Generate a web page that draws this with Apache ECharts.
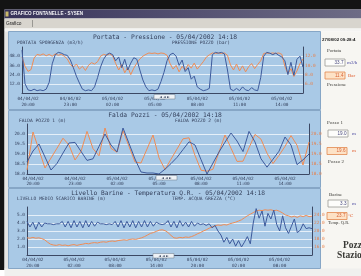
<!DOCTYPE html>
<html>
<head>
<meta charset="utf-8" />
<title>Grafico Fontanelle - Sysen</title>
<script src="https://cdn.jsdelivr.net/npm/echarts@6/dist/echarts.min.js"></script>
<style>
html, body { margin: 0; padding: 0; background: #fff; }
#main { width: 361px; height: 276px; }
</style>
</head>
<body>
<div id="main"></div>
<script>
// --- dati ---
// pannello 1: portata (m3/h) e pressione (bar)
var p1Portata = [56,12,4,3,5,3,4,3,5,14, 38,50,53,52,50,49,43,33,22,13,
  5,3,4,3,8,20,34,44,50,52, 50,42,47,33,44,30,39,46,44,30,
  17,8,3,4,3,5,15,27,42,50, 52,48,36,43,28,33,18,22,8,5,
  3,4,6,50,53,52,53,51,30,5, 3,6,3,8,4,3,7,4,3,20,
  48,53,52,50,52,49,47,42,24,40, 23,44,48,33.7];
var p1Pressione = [11.8,9.8,8.7,9.1,11.6,12.4,12.2,12.5,12.1,12.4,
  12.0,12.5,12.2,12.4,12.0,11.4,10.2,9.6,10.3,9.2,
  9.8,8.9,10.0,10.6,10.3,10.8,12.0,12.4,12.2,12.5,
  12.1,10.4,9.0,10.2,8.4,9.6,8.0,9.4,10.5,11.4,
  12.0,12.4,12.7,12.6,12.7,12.5,12.7,12.6,12.2,10.4,
  9.2,10.0,8.6,9.8,9.0,10.2,9.4,10.5,9.2,10.0,
  10.8,11.8,12.3,12.7,12.6,12.7,12.6,12.7,12.2,10.1,
  9.0,10.3,8.8,9.9,8.6,9.7,10.4,9.3,10.2,11.0,
  12.6,12.7,12.6,12.7,12.6,12.7,12.4,9.8,8.2,9.3,
  7.6,8.8,10.4,11.4];
var p1Ticks = ['04/04/02\n20:00','04/04/02\n23:00','05/04/02\n02:00','05/04/02\n05:00',
  '05/04/02\n08:00','05/04/02\n11:00','05/04/02\n14:00'];

// pannello 2: falda pozzo 1 e pozzo 2 (m)
var p2Pozzo1 = [18.60,19.15,19.50,18.85,18.20,18.53,19.05,19.55,19.58,19.13,
  18.68,18.76,19.38,20.00,19.45,19.10,20.30,19.53,18.75,18.10,
  18.05,18.05,18.00,18.24,18.52,18.83,19.22,19.61,19.45,18.72,
  18.00,18.55,19.10,19.59,20.05,19.65,19.12,20.13,19.60,18.76,
  18.34,18.74,19.14,19.85,19.45,18.47,18.71,19.00];
var p2Pozzo2 = [18.20,20.10,19.20,18.30,18.80,19.29,19.79,19.45,18.70,19.13,
  20.13,19.27,18.91,20.30,19.28,19.09,20.17,19.38,18.60,18.55,
  19.25,19.95,18.81,18.22,18.74,19.25,19.76,19.81,18.93,18.19,
  18.14,18.24,19.10,19.95,19.29,18.63,18.64,19.31,19.98,19.74,
  19.04,18.52,18.93,19.38,19.92,19.44,18.45,19.60];
var p2Ticks = ['04/04/02\n20:00','04/04/02\n23:00','05/04/02\n02:00','05/04/02\n05:00',
  '05/04/02\n08:00','05/04/02\n11:00','05/04/02\n14:00'];

// pannello 3: livello barine (m) e temperatura Q.R. (°C)
var p3Barine = [4.2,3.5,4.1,3.2,4.1,3.5,4.0,3.9,3.9,3.8,
  3.9,3.9,4.2,3.5,4.2,3.4,4.3,3.5,4.2,3.4,
  4.3,3.5,4.2,3.6,4.1,3.9,3.9,3.8,3.9,3.8,
  4.2,3.5,4.3,3.4,4.2,3.5,4.3,3.4,4.2,3.5,
  4.3,3.5,4.2,3.6,4.1,3.9,3.8,3.9,4.3,3.5,
  4.2,3.4,4.3,3.6,4.1,3.5,4.2,3.6,4.0,3.8,
  3.9,3.7,3.9,3.4,3.7,3.0,2.5,1.6,2.2,1.4,
  2.0,1.1,1.8,1.0,1.6,2.3,1.4,4.0,5.8,4.6,
  5.5,3.6,5.2,4.5,5.6,3.8,3.0,4.9,3.4,2.7,
  3.6,4.5,2.8,3.1,3.9,3.3,3.4,3.3];
var p3Temp = [18.3,18.2,18.4,18.2,18.3,18.1,17.8,17.2,16.7,16.5,
  16.4,16.6,16.4,16.5,16.3,16.5,16.6,16.4,16.6,16.7,
  16.9,16.8,17.0,17.1,17.0,17.2,17.3,17.2,17.4,17.5,
  17.4,17.6,17.7,17.8,17.7,17.9,18.0,17.9,18.1,18.3,
  18.6,19.0,19.4,19.6,19.9,20.2,20.3,20.1,19.6,18.9,
  18.3,18.2,18.4,18.3,18.5,18.4,18.6,18.9,19.3,19.6,
  20.0,20.3,20.7,21.0,21.3,21.5,21.4,21.6,21.5,21.8,
  22.0,22.2,22.5,22.8,23.3,23.8,24.2,24.6,25.0,25.2,
  25.1,25.3,25.2,25.3,25.1,25.2,24.9,24.5,24.0,23.8,
  23.5,23.7,23.4,23.8,23.6,23.9,23.6,23.7];
var p3Ticks = ['04/04/02\n20:00','05/04/02\n02:00','05/04/02\n08:00','05/04/02\n14:00',
  '05/04/02\n20:00','05/04/02\n02:00','05/04/02\n08:00'];

// valori istantanei (pannello a destra)
var istantanei = { data: '27/08/02 09:28:4', portata: '33.7', pressione: '11.4',
  pozzo1: '19.0', pozzo2: '19.6', barine: '3.3', temp: '23.7' };

var BLU = '#3d5a9c', ARANCIO = '#f08c54', FONDO = '#a9c9e6';
var TESTO = '#34405c';
var MONO = 'DejaVu Sans Mono', SERIF = 'Liberation Serif';

// categorie: etichetta solo sui tick, il resto segnaposto
function categorie(n, primo, passo, ticks) {
  var c = [];
  for (var i = 0; i < n; i++) {
    var k = (i - primo) / passo;
    c.push(k >= 0 && k % 1 === 0 && k < ticks.length ? ticks[k] : '#' + i);
  }
  return c;
}
function soloTick(idx, val) { return val.charAt(0) !== '#'; }

function asseX(grid, cats, margin, lh) {
  return {
    type: 'category', gridIndex: grid, data: cats, boundaryGap: false,
    axisLine: { lineStyle: { color: '#3c4864', width: 1 } },
    axisTick: { show: false },
    splitLine: { show: false },
    axisLabel: { interval: soloTick, fontSize: 4.4, lineHeight: lh, margin: margin,
      color: TESTO, fontFamily: MONO }
  };
}
function asseY(grid, pos, min, max, step, col, showMin) {
  return {
    type: 'value', gridIndex: grid, position: pos, min: min, max: max, interval: step,
    axisLine: { show: true, lineStyle: { color: '#3c4864', width: 1 } },
    axisTick: { show: false },
    axisLabel: { color: col, fontSize: 4.4, margin: 2, fontFamily: MONO,
      showMinLabel: showMin, showMaxLabel: false,
      formatter: function (v) { return v.toFixed(1); } },
    splitLine: { show: pos === 'left', showMaxLine: false,
      lineStyle: { color: 'rgba(255,255,255,0.7)', width: 1 } }
  };
}
function linea(xi, yi, data, col) {
  return { type: 'line', xAxisIndex: xi, yAxisIndex: yi, data: data, symbol: 'none',
    lineStyle: { color: col, width: 1 }, itemStyle: { color: col }, z: 3 };
}

var g = [];
function rett(x, y, w, h, fill, stroke) {
  g.push({ type: 'rect', z: -5, shape: { x: x, y: y, width: w, height: h },
    style: { fill: fill, stroke: stroke || null, lineWidth: 1 } });
}
function testo(x, y, s, size, col, fam, align, weight) {
  g.push({ type: 'text', z: 10, x: x, y: y,
    style: { text: s, fill: col, fontSize: size, fontFamily: fam || MONO,
      fontWeight: weight || 'normal', align: align || 'left', textAlign: align || 'left',
      verticalAlign: 'middle', textVerticalAlign: 'middle' } });
}

// cornice finestra
rett(0, 0, 361, 9.5, '#141414');
rett(0, 0, 4.5, 270, '#141414');
g.push({ type: 'rect', z: -5, shape: { x: 4.5, y: 9.5, width: 357, height: 9 },
  style: { fill: { type: 'linear', x: 0, y: 0, x2: 1, y2: 0,
    colorStops: [{ offset: 0, color: '#37335a' }, { offset: 1, color: '#6e6c86' }] } } });
rett(5.5, 11.5, 3, 5, '#c9b86a');
testo(10.5, 14, 'GRAFICO FONTANELLE - SYSEN', 4.6, '#f2f2f6', 'Liberation Sans', 'left', 'bold');
rett(4.5, 18.5, 357, 10, '#d8d5ce');
testo(6, 23.5, 'Grafico', 4.8, '#222', 'Liberation Sans');
rett(32, 20, 0.8, 7, '#8a8884');
rett(4.5, 28.5, 357, 3, '#f4f4f2');
rett(4.5, 31.5, 4, 238, '#e6e6e4');
rett(320.5, 31.5, 41, 238, '#f7f6f2');
rett(4.5, 268.5, 357, 8, '#f0f0ee');

// pannelli azzurri
rett(8.5, 31.5, 312, 78, FONDO, '#86a6c6');
rett(8.5, 110.5, 312, 77, FONDO, '#86a6c6');
rett(8.5, 188.5, 312, 80, FONDO, '#86a6c6');

// titoli
testo(165, 37, 'Portata - Pressione - 05/04/2002 14:18', 6.3, TESTO, MONO, 'center');
testo(17, 43, 'PORTATA SPORGENZA (m3/h)', 4.6, TESTO);
testo(172, 43, 'PRESSIONE POZZO (bar)', 4.6, TESTO);
testo(165, 115.5, 'Falda Pozzi - 05/04/2002 14:18', 6.3, TESTO, MONO, 'center');
testo(19, 120.5, 'FALDA POZZO 1 (m)', 4.6, TESTO);
testo(175, 120.5, 'FALDA POZZO 2 (m)', 4.6, TESTO);
testo(168, 193.5, 'Livello Barine - Temperatura Q.R. - 05/04/2002 14:18', 6.2, TESTO, MONO, 'center');
testo(17, 199, 'LIVELLO MEDIO SCARICO BARINE (m)', 4.6, TESTO);
testo(172, 199, 'TEMP. ACQUA GREZZA (°C)', 4.6, TESTO);

// pulsanti scorrimento
[[154, 94.5], [156, 175.5], [153, 253.5]].forEach(function (p) {
  g.push({ type: 'rect', z: 8, shape: { x: p[0], y: p[1], width: 21, height: 4.5 },
    style: { fill: '#eef2f6', stroke: '#7a8898', lineWidth: 0.6 } });
  testo(p[0] + 10.5, p[1] + 2.4, '◄ ◄ ►', 3.6, '#33405a', 'DejaVu Sans', 'center');
});

// pannello valori istantanei
function casella(x, y, val, arancio) {
  g.push({ type: 'rect', z: 8, shape: { x: x, y: y, width: 20, height: 7 },
    style: { fill: arancio ? '#fde2c6' : '#fdfdfb', stroke: arancio ? '#e2884e' : '#9a9a96', lineWidth: 0.8 } });
  testo(x + 18.5, y + 3.6, val, 4.6, arancio ? '#d8643a' : '#4a4a7e', 'Liberation Sans', 'right');
}
testo(322, 39.5, istantanei.data, 4.4, '#222', 'Liberation Sans', 'left', 'bold');
testo(327, 51, 'Portata', 5, '#3a3a36', SERIF);
casella(325, 59, istantanei.portata, false);
testo(347, 62.5, 'm3/h', 5, '#4848a0', SERIF);
casella(325, 72, istantanei.pressione, true);
testo(348, 75.5, 'Bar', 5, '#e05a2a', SERIF);
testo(327, 85, 'Pressione', 5, '#3a3a36', SERIF);
testo(327, 123, 'Pozzo 1', 5, '#3a3a36', SERIF);
casella(328, 130, istantanei.pozzo1, false);
testo(352, 134, 'm', 5, '#4848a0', SERIF);
casella(327, 147.5, istantanei.pozzo2, true);
testo(352, 151, 'm', 5, '#e05a2a', SERIF);
testo(328, 162, 'Pozzo 2', 5, '#3a3a36', SERIF);
testo(329, 195, 'Barine', 5, '#3a3a36', SERIF);
casella(328, 200, istantanei.barine, false);
testo(352, 204, 'm', 5, '#4848a0', SERIF);
casella(327, 212.5, istantanei.temp, true);
testo(348, 216, '°C', 5, '#e05a2a', SERIF);
testo(328, 223, 'Temp. Q.R.', 4.6, '#3a3a36', SERIF);
testo(343, 246, 'Pozzo', 9.5, '#3a3a36', SERIF, 'left', 'bold');
testo(337, 255.5, 'Stazione', 9.5, '#3a3a36', SERIF, 'left', 'bold');

var chart = echarts.init(document.getElementById('main'), null, { renderer: 'canvas' });
chart.setOption({
  animation: false,
  backgroundColor: '#ffffff',
  graphic: { elements: g },
  grid: [
    { left: 22, right: 58, top: 47, height: 46 },
    { left: 27, right: 52, top: 124, height: 50 },
    { left: 27, right: 49, top: 207, height: 48 }
  ],
  xAxis: [
    asseX(0, categorie(p1Portata.length, 2, 14, p1Ticks), 3, 6),
    asseX(1, categorie(p2Pozzo1.length, 1, 7, p2Ticks), 3, 4.5),
    asseX(2, categorie(p3Barine.length, 2, 14, p3Ticks), 1.5, 6)
  ],
  yAxis: [
    asseY(0, 'left', 0, 60, 12, TESTO, false),
    asseY(0, 'right', 4, 14, 2, '#e8804a', false),
    asseY(1, 'left', 18, 20.5, 0.5, TESTO, true),
    asseY(1, 'right', 18, 20.5, 0.5, '#e8804a', true),
    asseY(2, 'left', 0, 6, 1, TESTO, false),
    asseY(2, 'right', 14, 26, 2, '#e8804a', false)
  ],
  series: [
    linea(0, 1, p1Pressione, ARANCIO),
    linea(0, 0, p1Portata, BLU),
    linea(1, 3, p2Pozzo2, ARANCIO),
    linea(1, 2, p2Pozzo1, BLU),
    linea(2, 5, p3Temp, ARANCIO),
    linea(2, 4, p3Barine, BLU)
  ]
});
</script>
</body>
</html>
